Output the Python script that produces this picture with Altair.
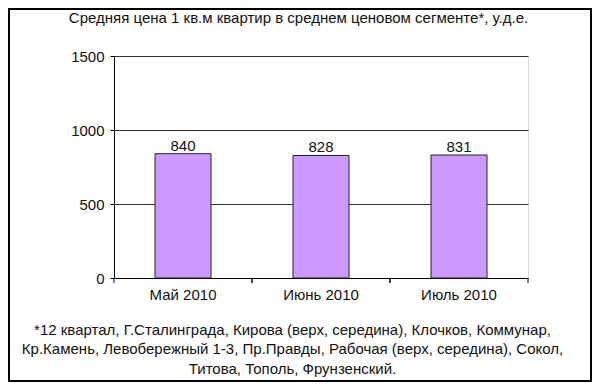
import altair as alt
import pandas as pd

months = ["Май 2010", "Июнь 2010", "Июль 2010"]
prices = [840, 828, 831]
y_ticks = [0, 500, 1000, 1500]
title_text = "Средняя цена 1 кв.м квартир в среднем ценовом сегменте*, у.д.е."
footnote_lines = [
    "*12 квартал, Г.Сталинграда, Кирова (верх, середина), Клочков, Коммунар,",
    "Кр.Камень, Левобережный 1-3, Пр.Правды, Рабочая (верх, середина), Сокол,",
    "Титова, Тополь, Фрунзенский.",
]

FONT = "Liberation Sans"
df = pd.DataFrame({"month": months, "price": prices})
title_df = pd.DataFrame({"t": [title_text]})

W, H = 414, 222

x_enc = alt.X(
    "month:N",
    sort=months,
    scale=alt.Scale(paddingInner=0, paddingOuter=0),
    axis=alt.Axis(
        title=footnote_lines,
        titleFont=FONT,
        titleFontSize=15,
        titleFontWeight="normal",
        titleColor="#111",
        titleLineHeight=19.5,
        titleAlign="center",
        titleBaseline="top",
        titleX=178,
        titleY=44,
        labelFont=FONT,
        labelFontSize=15,
        labelColor="#111",
        labelAngle=0,
        labelPadding=9,
        ticks=False,
        domainColor="black",
        domainWidth=1,
        grid=False,
    ),
)

base = alt.Chart(df)

bars = base.mark_bar(size=56, color="#CC99FF", stroke="#222", strokeWidth=1).encode(
    x=x_enc,
    y=alt.Y(
        "price:Q",
        scale=alt.Scale(domain=[0, 1500], nice=False),
        axis=alt.Axis(
            title=None,
            values=y_ticks,
            format="d",
            labelFont=FONT,
            labelFontSize=15,
            labelColor="#111",
            labelPadding=6,
            tickSize=4,
            tickColor="black",
            domainColor="black",
            gridColor="#333",
            gridWidth=1,
        ),
    ),
)

labels = base.mark_text(
    font=FONT, fontSize=15, color="#111", baseline="alphabetic", dy=-3
).encode(
    x=alt.X("month:N", sort=months),
    y="price:Q",
    text="price:Q",
)

ticks_left = base.mark_rule(color="black").encode(
    x=alt.X("month:N", sort=months, bandPosition=0),
    y=alt.value(H),
    y2=alt.value(H + 5),
)
ticks_right = base.mark_rule(color="black").encode(
    x=alt.X("month:N", sort=months, bandPosition=1),
    y=alt.value(H),
    y2=alt.value(H + 5),
)

title_mark = alt.Chart(title_df).mark_text(
    font=FONT, fontSize=15, color="#111", baseline="alphabetic", align="center"
).encode(
    x=alt.value(184.5),
    y=alt.value(-33),
    text="t:N",
)

frame = base.mark_rect(filled=False, stroke="black", strokeWidth=2).encode(
    x=alt.value(-105),
    x2=alt.value(477),
    y=alt.value(-47),
    y2=alt.value(325),
)

chart = (
    alt.layer(bars, labels, ticks_left, ticks_right, title_mark, frame)
    .properties(
        width=W,
        height=H,
        autosize=alt.AutoSizeParams(type="none"),
        padding={"left": 106, "top": 48, "right": 64, "bottom": 104},
    )
    .configure_view(stroke="#888", strokeWidth=1)
    .configure(background="white")
)

chart.save("out.html", embed_options={"renderer": "svg", "actions": False})
